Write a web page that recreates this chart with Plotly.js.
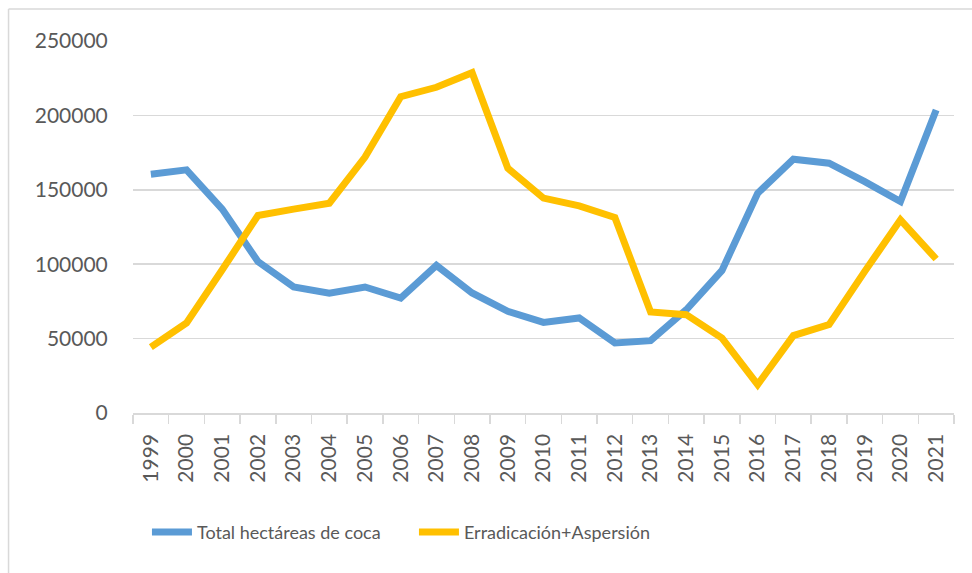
<!DOCTYPE html>
<html>
<head>
<meta charset="utf-8">
<script src="https://cdn.plot.ly/plotly-3.0.1.min.js"></script>
<style>html,body{margin:0;padding:0;background:#fff;}#chart{width:972px;height:573px;}</style>
</head>
<body>
<div id="chart"></div>
<script>
const years = ["1999","2000","2001","2002","2003","2004","2005","2006","2007","2008","2009","2010","2011","2012","2013","2014","2015","2016","2017","2018","2019","2020","2021"];
const totalCoca = [160500,163400,137000,101800,84700,80500,84700,77300,99200,80700,68300,60900,63900,47100,48600,69400,95800,147700,170600,167900,155500,142100,203600];
const erradicacion = [44200,60500,96300,132700,137000,141000,172000,212600,218900,228700,164500,144400,139200,131400,67900,66100,50400,19100,52000,59400,95200,129800,103500];
const yTicks = [0,50000,100000,150000,200000,250000];
const seriesNames = ["Total hectáreas de coca","Erradicación+Aspersión"];

const fontFam = "Lato, 'Open Sans', sans-serif";
const traces = [
  {x: years, y: totalCoca, name: seriesNames[0], type: "scatter", mode: "lines",
   line: {color: "#5B9BD5", width: 7}},
  {x: years, y: erradicacion, name: seriesNames[1], type: "scatter", mode: "lines",
   line: {color: "#FFC000", width: 7}}
];
const layout = {
  width: 972, height: 573,
  margin: {l: 133, r: 18, t: 41, b: 159.5},
  paper_bgcolor: "#fff", plot_bgcolor: "#fff",
  font: {family: fontFam, color: "#595959", size: 21},
  showlegend: true,
  legend: {orientation: "h", x: 0.017, xanchor: "left", y: -0.321, yanchor: "middle",
           font: {family: fontFam, size: 18, color: "#595959"}, itemwidth: 40, tracegroupgap: 0,
           entrywidth: 212, entrywidthmode: "pixels"},
  xaxis: {type: "category", range: [-0.5, 22.5], tickangle: -90, showgrid: false, showline: true, linecolor: "#D9D9D9", linewidth: 1.5,
          ticks: "outside", tickson: "boundaries", ticklen: 9, tickcolor: "#D9D9D9", tickwidth: 1.5,
          ticklabelstandoff: 11, tickfont: {family: fontFam, size: 21, color: "#595959"}, fixedrange: true},
  yaxis: {range: [0, 250000], tickvals: yTicks, ticktext: yTicks.map(String), showgrid: true, gridcolor: "#D9D9D9", gridwidth: 1.5,
          zeroline: false, showline: false, ticks: "outside", ticklen: 20, tickcolor: "rgba(0,0,0,0)",
          tickfont: {family: fontFam, size: 21, color: "#595959"}, fixedrange: true},
  shapes: [
    {type: "line", xref: "paper", yref: "paper", x0: -0.1516, x1: 1.03, y0: 1.0859, y1: 1.0859, line: {color: "#D9D9D9", width: 1.5}},
    {type: "line", xref: "paper", yref: "paper", x0: -0.1516, x1: -0.1516, y0: 1.0859, y1: -0.45, line: {color: "#D9D9D9", width: 1.5}}
  ]
};
Plotly.newPlot("chart", traces, layout, {displayModeBar: false, staticPlot: true});
</script>
</body>
</html>
